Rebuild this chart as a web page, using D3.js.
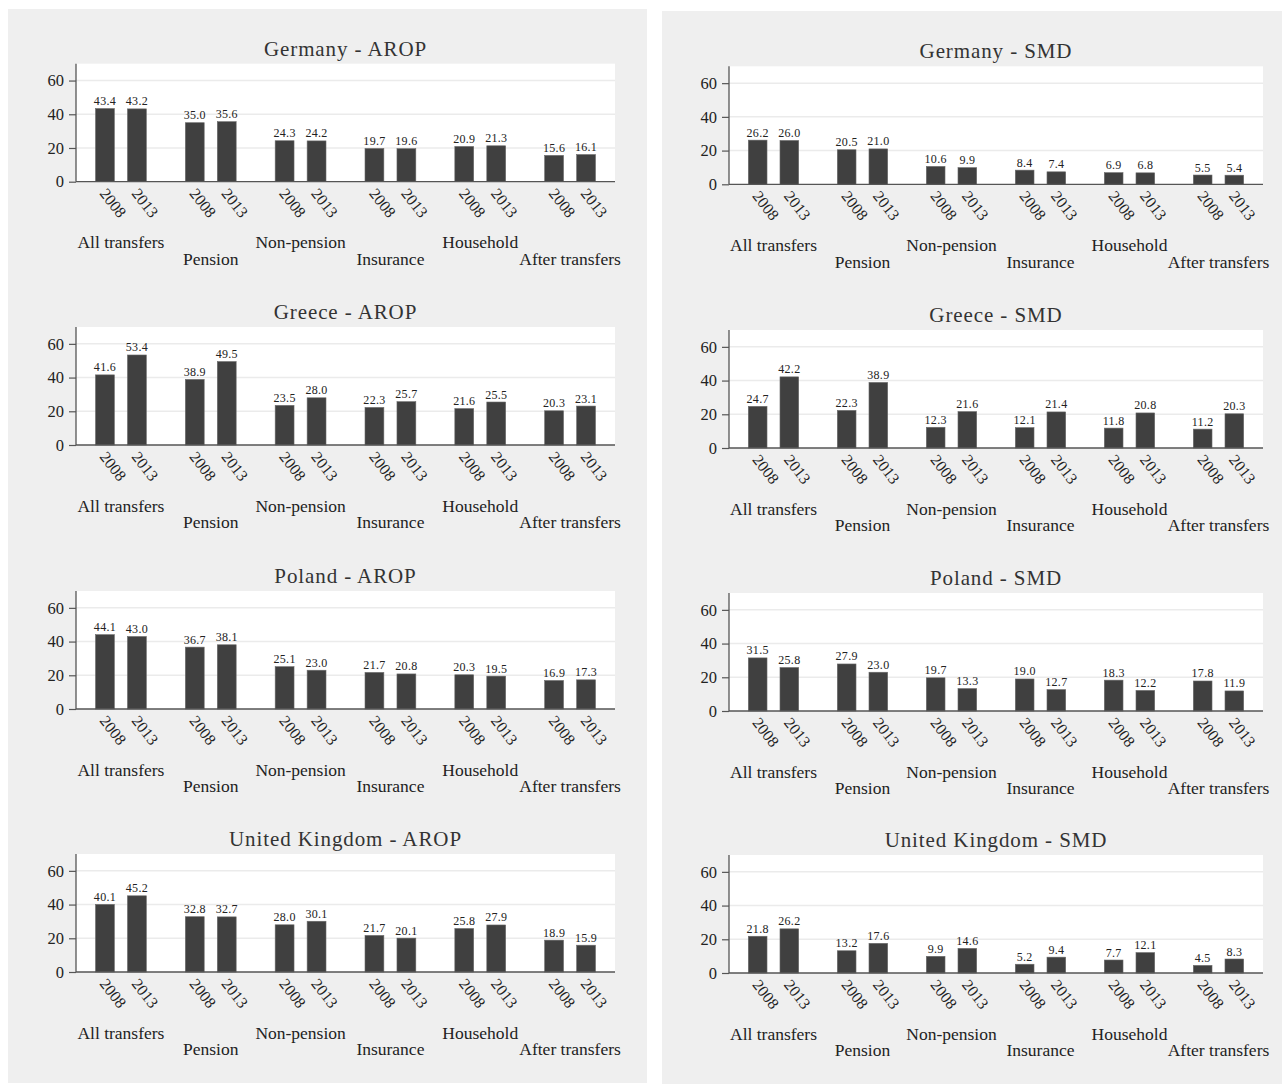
<!DOCTYPE html>
<html>
<head>
<meta charset="utf-8">
<script src="https://cdn.jsdelivr.net/npm/d3@7"></script>
<style>
  html, body { margin: 0; padding: 0; background: #ffffff; }
  svg { display: block; }
  text { font-family: "Liberation Serif", "Times New Roman", serif; }
</style>
</head>
<body>
<svg id="chart" width="1284" height="1084"></svg>
<script>
// Transfer categories and survey years
const groups = ["All transfers", "Pension", "Non-pension", "Insurance", "Household", "After transfers"];
const years = ["2008", "2013"];
const yTicks = [0, 20, 40, 60];

// At-risk-of-poverty rates (%) by transfer type
const germanyAROP2008 = [43.4, 35.0, 24.3, 19.7, 20.9, 15.6];
const germanyAROP2013 = [43.2, 35.6, 24.2, 19.6, 21.3, 16.1];
const greeceAROP2008  = [41.6, 38.9, 23.5, 22.3, 21.6, 20.3];
const greeceAROP2013  = [53.4, 49.5, 28.0, 25.7, 25.5, 23.1];
const polandAROP2008  = [44.1, 36.7, 25.1, 21.7, 20.3, 16.9];
const polandAROP2013  = [43.0, 38.1, 23.0, 20.8, 19.5, 17.3];
const ukAROP2008      = [40.1, 32.8, 28.0, 21.7, 25.8, 18.9];
const ukAROP2013      = [45.2, 32.7, 30.1, 20.1, 27.9, 15.9];

// Severe material deprivation rates (%) by transfer type
const germanySMD2008 = [26.2, 20.5, 10.6, 8.4, 6.9, 5.5];
const germanySMD2013 = [26.0, 21.0, 9.9, 7.4, 6.8, 5.4];
const greeceSMD2008  = [24.7, 22.3, 12.3, 12.1, 11.8, 11.2];
const greeceSMD2013  = [42.2, 38.9, 21.6, 21.4, 20.8, 20.3];
const polandSMD2008  = [31.5, 27.9, 19.7, 19.0, 18.3, 17.8];
const polandSMD2013  = [25.8, 23.0, 13.3, 12.7, 12.2, 11.9];
const ukSMD2008      = [21.8, 13.2, 9.9, 5.2, 7.7, 4.5];
const ukSMD2013      = [26.2, 17.6, 14.6, 9.4, 12.1, 8.3];

const countries = ["Germany", "Greece", "Poland", "United Kingdom"];
const aropSeries = [
  [germanyAROP2008, germanyAROP2013],
  [greeceAROP2008, greeceAROP2013],
  [polandAROP2008, polandAROP2013],
  [ukAROP2008, ukAROP2013]
];
const smdSeries = [
  [germanySMD2008, germanySMD2013],
  [greeceSMD2008, greeceSMD2013],
  [polandSMD2008, polandSMD2013],
  [ukSMD2008, ukSMD2013]
];

const svg = d3.select("#chart");

// Column layout: grey backdrop, plot x-extent, baselines of the four sub-charts
const columns = [
  { measure: "AROP", series: aropSeries, bg: [8, 9, 639, 1074],
    x0: 76, x1: 615, baselines: [181.7, 445, 709, 972] },
  { measure: "SMD", series: smdSeries, bg: [662, 11, 620, 1073],
    x0: 729, x1: 1263, baselines: [184.3, 448, 711, 973] }
];

const plotH = 118;

columns.forEach(col => {
  svg.append("rect")
    .attr("x", col.bg[0]).attr("y", col.bg[1])
    .attr("width", col.bg[2]).attr("height", col.bg[3])
    .attr("fill", "#efefef");

  countries.forEach((country, ci) => {
    const base = col.baselines[ci];
    const g = svg.append("g");

    const x = d3.scaleBand().domain(groups).range([col.x0, col.x1]).padding(0);
    const inner = d3.scaleBand().domain(years).range([0, x.bandwidth()])
      .paddingInner(0.41).paddingOuter(0.61);
    const y = d3.scaleLinear().domain([0, 70]).range([base, base - plotH]);

    // plot region
    g.append("rect")
      .attr("x", col.x0).attr("y", y(70))
      .attr("width", col.x1 - col.x0).attr("height", base - y(70))
      .attr("fill", "#ffffff");

    // horizontal gridlines
    g.selectAll("line.grid").data(yTicks.filter(t => t > 0)).join("line")
      .attr("class", "grid")
      .attr("x1", col.x0).attr("x2", col.x1)
      .attr("y1", d => y(d)).attr("y2", d => y(d))
      .attr("stroke", "#ebebeb").attr("stroke-width", 1.5);

    // title
    g.append("text")
      .attr("x", (col.x0 + col.x1) / 2).attr("y", base - plotH - 8)
      .attr("text-anchor", "middle")
      .attr("font-size", 21).attr("letter-spacing", 0.9)
      .attr("fill", "#333")
      .text(`${country} - ${col.measure}`);

    // bars and value labels
    const rows = [];
    groups.forEach((grp, gi) => {
      years.forEach((yr, yi) => {
        rows.push({ grp, yr, v: col.series[ci][yi][gi] });
      });
    });

    g.selectAll("rect.bar").data(rows).join("rect")
      .attr("class", "bar")
      .attr("x", d => x(d.grp) + inner(d.yr))
      .attr("y", d => y(d.v))
      .attr("width", inner.bandwidth())
      .attr("height", d => base - y(d.v))
      .attr("fill", "#404040")
      .attr("stroke", "#6a6a6a").attr("stroke-width", 0.6);

    g.selectAll("text.val").data(rows).join("text")
      .attr("class", "val")
      .attr("x", d => x(d.grp) + inner(d.yr) + inner.bandwidth() / 2)
      .attr("y", d => y(d.v) - 3.5)
      .attr("text-anchor", "middle")
      .attr("font-size", 12).attr("letter-spacing", 0.3)
      .attr("fill", "#222")
      .text(d => d.v.toFixed(1));

    // y axis
    const yAxis = d3.axisLeft(y).tickValues(yTicks).tickSize(7).tickPadding(5)
      .tickFormat(d3.format("d"));
    const ya = g.append("g").attr("transform", `translate(${col.x0},0)`).call(yAxis);
    ya.select(".domain").remove();
    ya.selectAll(".tick line").attr("stroke", "#555").attr("stroke-width", 1.2);
    ya.selectAll(".tick text")
      .attr("font-family", "Liberation Serif, Times New Roman, serif")
      .attr("font-size", 16.5).attr("fill", "#222");
    g.append("line")
      .attr("x1", col.x0).attr("x2", col.x0)
      .attr("y1", y(70)).attr("y2", base)
      .attr("stroke", "#555").attr("stroke-width", 1.3);

    // x baseline
    g.append("line")
      .attr("x1", col.x0).attr("x2", col.x1)
      .attr("y1", base).attr("y2", base)
      .attr("stroke", "#555").attr("stroke-width", 1.3);

    // rotated year labels
    g.selectAll("text.yr").data(rows).join("text")
      .attr("class", "yr")
      .attr("transform", d => {
        const cx = x(d.grp) + inner(d.yr) + inner.bandwidth() / 2;
        return `translate(${cx - 6},${base + 12}) rotate(52)`;
      })
      .attr("font-size", 16).attr("fill", "#222")
      .text(d => d.yr);

    // category labels, staggered on two rows
    g.selectAll("text.grp").data(groups).join("text")
      .attr("class", "grp")
      .attr("x", d => x(d) + x.bandwidth() / 2)
      .attr("y", (d, i) => base + (i % 2 === 0 ? 66.5 : 83.3))
      .attr("text-anchor", "middle")
      .attr("font-size", 17.5).attr("fill", "#222")
      .text(d => d);
  });
});
</script>
</body>
</html>
